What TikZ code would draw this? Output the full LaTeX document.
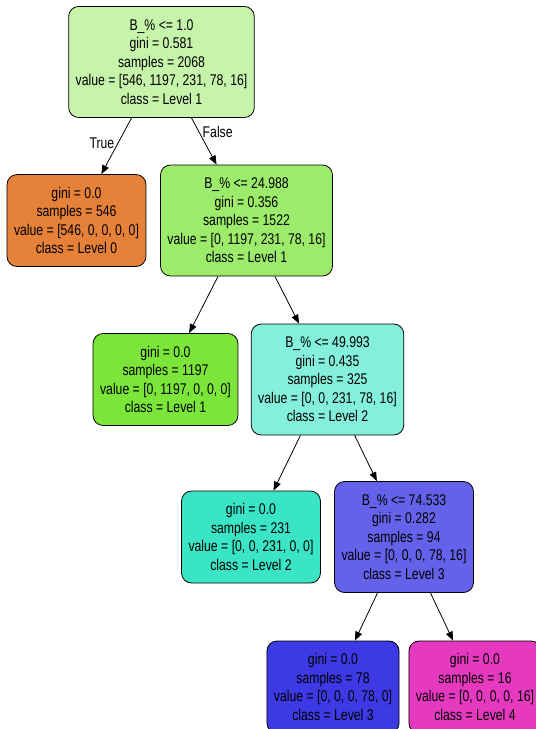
\documentclass[tikz,border=0pt]{standalone}
\usepackage{fontspec}
\setmainfont{Liberation Sans}[FakeStretch=0.79]
\usepackage{tikz}
\usetikzlibrary{arrows.meta,positioning}

\definecolor{rootgreen}{HTML}{C6F4AA}
\definecolor{splitgreen}{HTML}{9CEB6B}
\definecolor{splitteal}{HTML}{84EFDB}
\definecolor{splitblue}{HTML}{6462EA}
\definecolor{levelzero}{HTML}{E58139}
\definecolor{levelone}{HTML}{7BE539}
\definecolor{leveltwo}{HTML}{39E5C5}
\definecolor{levelthree}{HTML}{3C39E5}
\definecolor{levelfour}{HTML}{E539C0}

\tikzset{
    box/.style = {draw, line width=0.8pt, rounded corners=10pt, align=center,
                  inner xsep=7pt, font=\fontsize{15.5pt}{18.5pt}\selectfont},
    split/.style = {box, minimum height=111pt},
    leaf/.style = {box, minimum height=92pt}
}

\begin{document}
\begin{tikzpicture}[
        level 1/.style = {sibling distance=170pt, level distance=158.5pt},
        level 2/.style = {sibling distance=162pt, level distance=159pt},
        level 3/.style = {sibling distance=153pt, level distance=157.5pt},
        level 4/.style = {sibling distance=142pt, level distance=150pt, xshift=3.5pt},
        edge from parent/.style = {draw, line width=0.8pt, -{Triangle[length=9pt,width=7pt]}}
    ]
    \useasboundingbox (0,0) rectangle (536pt,-729pt);

    \node [split, fill=rootgreen] (root) at (161.5pt,-62pt)
        {B\_\% <= 1.0\\gini = 0.581\\samples = 2068\\value = [546, 1197, 231, 78, 16]\\class = Level 1}
        child {node [leaf, fill=levelzero] (lvl0)
            {gini = 0.0\\samples = 546\\value = [546, 0, 0, 0, 0]\\class = Level 0}
            edge from parent node [left, pos=0.45] {\fontsize{15.5pt}{18.5pt}\selectfont True}
        }
        child {node [split, fill=splitgreen] (split1)
            {B\_\% <= 24.988\\gini = 0.356\\samples = 1522\\value = [0, 1197, 231, 78, 16]\\class = Level 1}
            child {node [leaf, fill=levelone] (lvl1)
                {gini = 0.0\\samples = 1197\\value = [0, 1197, 0, 0, 0]\\class = Level 1}
            }
            child {node [split, fill=splitteal] (split2)
                {B\_\% <= 49.993\\gini = 0.435\\samples = 325\\value = [0, 0, 231, 78, 16]\\class = Level 2}
                child {node [leaf, fill=leveltwo] (lvl2)
                    {gini = 0.0\\samples = 231\\value = [0, 0, 231, 0, 0]\\class = Level 2}
                }
                child {node [split, fill=splitblue] (split3)
                    {B\_\% <= 74.533\\gini = 0.282\\samples = 94\\value = [0, 0, 0, 78, 16]\\class = Level 3}
                    child {node [leaf, fill=levelthree] (lvl3)
                        {gini = 0.0\\samples = 78\\value = [0, 0, 0, 78, 0]\\class = Level 3}
                    }
                    child {node [leaf, fill=levelfour] (lvl4)
                        {gini = 0.0\\samples = 16\\value = [0, 0, 0, 0, 16]\\class = Level 4}
                    }
                }
            }
            edge from parent node [right, pos=0.3] {\fontsize{15.5pt}{18.5pt}\selectfont False}
        };
\end{tikzpicture}
\end{document}
